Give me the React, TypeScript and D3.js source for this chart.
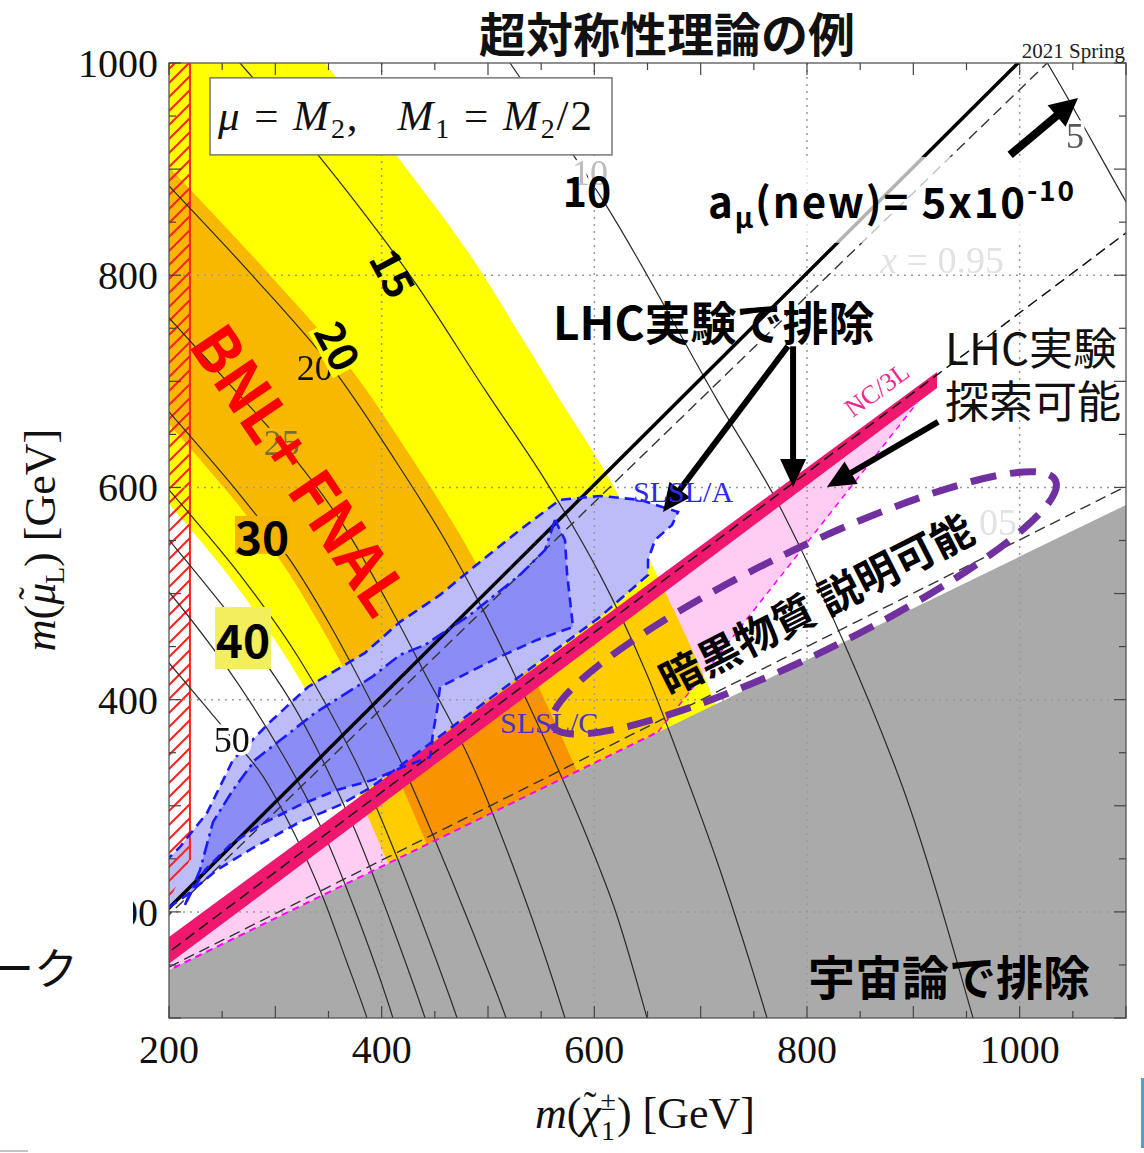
import React from "react";
import * as d3 from "d3";

type Pt = [number, number];

// ---------- axes ----------
const X_DOMAIN: Pt = [200, 1100];
const Y_DOMAIN: Pt = [100, 1000];
const xTickValues = [200, 400, 600, 800, 1000];
const yTickValues = [200, 400, 600, 800, 1000];
const gridX = [400, 600, 800, 1000];
const gridY = [200, 400, 600, 800];

// ---------- contours of Δa_μ (×10^-10) ----------
const contour5: Pt[] = [[1000, 1040], [1026, 1000], [1099, 871], [1140, 800]];
const contour10: Pt[] = [[487, 1050], [520.7, 1000], [612, 864.4], [715.4, 682.5], [777.5, 576], [887.5, 324.3], [956.2, 100], [962, 80]];
const contour15: Pt[] = [[240, 1030], [266.8, 1000], [340.1, 913.4], [400.3, 836.1], [434.2, 789], [497.2, 691.9], [553.6, 607.1], [605.4, 517.6], [647.7, 428], [680.6, 343.2], [718.2, 239.5], [762.4, 100], [768, 80]];
const contour20: Pt[] = [[180, 906], [200, 884.2], [276.2, 802.2], [351.4, 715.5], [412.5, 625.9], [459.6, 550.5], [495.3, 484.6], [527.3, 418.6], [553.6, 362], [586.5, 286.6], [619.5, 201.8], [649.6, 100], [655, 80]];
const contour25: Pt[] = [[180, 782], [200, 759.8], [257.4, 696.6], [306.3, 642], [360.8, 569.4], [414.4, 475.1], [438.9, 428], [483.1, 343.2], [530.1, 225.4], [572.4, 100], [578, 80]];
const contour30: Pt[] = [[180, 694], [200, 671.2], [266.8, 593], [313.8, 531.7], [351.4, 470.4], [384.3, 409.2], [417.3, 343.2], [450.2, 267.8], [483.1, 187.7], [517, 100], [523, 80]];
const contour35: Pt[] = [[180, 621], [200, 597.7], [266.8, 517.6], [323.2, 437.4], [374.9, 343.2], [409.7, 263.1], [440.8, 183], [470.9, 100], [477, 80]];
const contour40: Pt[] = [[180, 574], [200, 550.5], [269.6, 463.8], [313.8, 399.8], [342, 347.9], [374.9, 277.2], [407.8, 192.4], [440.8, 100], [447, 80]];
const contour45: Pt[] = [[180, 525], [200, 501.5], [252.7, 432.7], [307.2, 347.9], [342, 281.9], [374.9, 201.8], [410.6, 100], [416, 80]];
const contour50: Pt[] = [[180, 458], [200, 434.6], [259.2, 364], [287.5, 329.1], [318.5, 272.5], [343.9, 216], [366.5, 154.7], [386.2, 100], [392, 80]];
const contours: Pt[][] = [contour5, contour10, contour15, contour20, contour25, contour30, contour35, contour40, contour45, contour50];

// contour labels (value, position)
const contourLabelText = ["5", "10", "20", "25", "50"];
const contourLabelPos: Pt[] = [[1052, 920], [596, 885], [337, 701], [306, 631], [259, 351]];
const contourLabelColor = ["#555", "#bdbdbd", "#111", "#7d6a3a", "#111"];
const contourLabelBg = ["#ffffff", "#ffffff", "#f9b800", "#f9b800", "#ffffff"];

// ---------- BNL+FNAL bands ----------
const yellowUpper: Pt[] = [[323.2, 1031.2], [346.7, 1000.1], [417.3, 908.7], [483.1, 819.2], [530.1, 743.8], [567.7, 682.5], [614.8, 607.1], [655.2, 525.1], [690, 451.6], [718.2, 385.6], [741.7, 315], [765.2, 230.1], [793.5, 69.9]];
const yellowLower: Pt[] = [[153.9, 639.1], [188.7, 597.7], [255.5, 517.6], [311.9, 437.4], [356.1, 357.3], [396.6, 267.8], [429.5, 187.7], [459.6, 100], [469, 69.9]];
const yellowCorner: Pt[] = [[153.9, 1031.2]];
const orangeUpper: Pt[] = [[153.9, 951.1], [200, 902.1], [293.1, 802.2], [368.3, 715.5], [429.5, 625.9], [476.5, 550.5], [512.2, 484.6], [544.2, 418.6], [570.6, 362], [603.5, 286.6], [636.4, 201.8], [666.5, 100], [675.9, 69.9]];
const orangeLower: Pt[] = [[153.9, 713.6], [200, 659.9], [257.4, 593], [304.4, 531.7], [342, 470.4], [374.9, 409.2], [407.8, 343.2], [440.8, 267.8], [473.7, 187.7], [507.5, 100], [516, 69.9]];

// ---------- other regions ----------
const greyRegion: Pt[] = [[190, 140.4], [1110, 588.4], [1110, 90], [190, 90]];
const pinkRegion: Pt[] = [[195, 147.2], [903.5, 679.7], [659.9, 369.6], [195, 142.9]];
const nc3lBand: Pt[] = [[190, 169], [922.3, 708.9], [922.3, 693.8], [190, 143.5]];
const hatchRegion: Pt[] = [[200, 1000], [219.7, 1000], [219.7, 248.9], [200, 211.3]];
const slslOuter: Pt[] = [[196.2, 247], [210.3, 261.2], [235.7, 293.2], [260.2, 343.2], [295, 379], [330.7, 412], [384.3, 444.1], [417.3, 473.3], [454.9, 498.7], [492.5, 529.8], [530.1, 560], [567.7, 588.3], [605.4, 592], [643, 588.3], [678.7, 576.9], [673.1, 564.7], [657.1, 550.5], [650.5, 531.7], [650.5, 517.6], [605.4, 478], [511.3, 408.2], [417.3, 337.5], [389, 316.8], [360.8, 300.8], [323.2, 284.8], [279, 260.3], [245.1, 239.5], [216.9, 216], [196.2, 201.8]];
const slslInnerTop: Pt[] = [[215, 206.5], [229.2, 239.5], [241.4, 284.8], [260.2, 314.9], [280.9, 343.2], [337.3, 387.5], [390.9, 421.4], [417.3, 442.2], [440.8, 451.6], [483.1, 479.9], [530.1, 517.6], [553.6, 541.1], [563, 569.4]];
const slslInnerBottom: Pt[] = [[563, 569.4], [572.4, 550.5], [574.3, 519.5], [579.9, 468.6], [546.1, 456.3], [508.5, 439.3], [454.9, 412], [452.1, 390.3], [448.3, 368.7], [445.5, 346], [420.1, 336.6], [391.9, 324.4], [358, 314.9], [323.2, 300.8], [285.6, 281.9], [257.4, 263.1], [233.9, 239.5], [219.7, 216], [215, 206.5]];

// ---------- reference lines ----------
const lineX1: Pt[] = [[195, 198.7], [1010, 1011.5]];
const lineX095: Pt[] = [[195, 192.4], [1060, 1033.2]];
const lineX05: Pt[] = [[190, 154.7], [1100, 839.9]];
const lineX005: Pt[] = [[200, 148], [1100, 601]];
const magentaGreyEdge: Pt[] = [[194.4, 142.4], [659.9, 369.6]];
const magentaPinkEdge: Pt[] = [[659.9, 369.6], [903.5, 679.7]];

// ---------- annotations ----------
const legendBox: Pt[] = [[238.6, 986], [616.6, 913.4]];
const amuBox: Pt[] = [[699.4, 911.5], [1056.8, 830.5]];
const amuTextPos: Pt = [706.9, 854];
const arrowAmu: Pt[] = [[991, 913.4], [1054.9, 967.1]];
const arrowLHC1: Pt[] = [[782, 733], [664.6, 576.9]];
const arrowLHC2: Pt[] = [[786.9, 733], [786.9, 600.5]];
const arrowLHC3: Pt[] = [[923.3, 661.8], [818.8, 600.5]];
const lhcExcludedPos: Pt = [561.1, 739.1];
const lhcReachPos1: Pt = [929.8, 715.5];
const lhcReachPos2: Pt = [929.8, 665.5];
const cosmoPos: Pt = [801, 121.7];
const dmEllipseCenter: Pt = [797.2, 491.2];
const dmTextPos: Pt = [807.6, 492.1];
const bold10Pos: Pt = [593.1, 864.4];
const bold15Pos: Pt = [412.5, 803.1];
const bold20Pos: Pt = [360.8, 734.3];
const bold30Pos: Pt = [287.5, 555.3];
const bold40Pos: Pt = [269.6, 458.2];
const bnlPos: Pt = [326, 618.4];
const slslAPos: Pt = [636.4, 586.4];
const slslCPos: Pt = [511.3, 368.6];
const nc3lPos: Pt = [865.9, 692];
const x095Pos: Pt = [927, 802.2];
const x005Pos: Pt = [997.5, 555.3];

export default function App() {
  const x = d3.scaleLinear().domain(X_DOMAIN).range([169, 1126]);
  const y = d3.scaleLinear().domain(Y_DOMAIN).range([1018, 63]);
  const smooth = d3.line<Pt>().x((d) => x(d[0])).y((d) => y(d[1])).curve(d3.curveCatmullRom.alpha(0.5));
  const straight = d3.line<Pt>().x((d) => x(d[0])).y((d) => y(d[1]));
  const poly = (pts: Pt[]) => straight(pts) + "Z";
  const bandPath = (upper: Pt[], lower: Pt[], corners: Pt[] = []) => {
    const a = smooth(upper) as string;
    const b = (smooth([...lower].reverse()) as string).replace(/^M/, "L");
    const c = corners.map((p) => `L${x(p[0])},${y(p[1])}`).join("");
    return a + b + c + "Z";
  };
  const arrow = (seg: Pt[], w: number, hl: number, hw: number) => {
    const x1 = x(seg[0][0]), y1 = y(seg[0][1]), x2 = x(seg[1][0]), y2 = y(seg[1][1]);
    const dx = x2 - x1, dy = y2 - y1, L = Math.hypot(dx, dy);
    const ux = dx / L, uy = dy / L, px = -uy, py = ux;
    const bx = x2 - ux * hl, by = y2 - uy * hl;
    return (
      <g>
        <line x1={x1} y1={y1} x2={bx + ux * 2} y2={by + uy * 2} stroke="#000" strokeWidth={w} />
        <path d={`M${x2},${y2}L${bx + (px * hw) / 2},${by + (py * hw) / 2}L${bx - (px * hw) / 2},${by - (py * hw) / 2}Z`} fill="#000" />
      </g>
    );
  };
  const X0 = x(X_DOMAIN[0]), X1 = x(X_DOMAIN[1]), Y0 = y(Y_DOMAIN[1]), Y1 = y(Y_DOMAIN[0]);
  const serif = "'Liberation Serif', 'Times New Roman', serif";
  const cjk = "'Noto Sans CJK JP', 'Noto Sans', sans-serif";
  const minorX = d3.range(200, 1101, 50);
  const minorY = d3.range(100, 1001, 50);
  const rx = x(dmEllipseCenter[0] + 263) - x(dmEllipseCenter[0]);
  const ry = y(0) - y(49);

  return (
    <svg width={1144} height={1153} style={{ position: "absolute", left: 0, top: 0, background: "#fff" }}>
      <defs>
        <clipPath id="plotClip">
          <rect x={X0} y={Y0} width={X1 - X0} height={Y1 - Y0} />
        </clipPath>
        <pattern id="hatch" patternUnits="userSpaceOnUse" width={14} height={14}>
          <path d="M-2,2 l4,-4 M0,14 l14,-14 M12,16 l4,-4" stroke="#ff2020" strokeWidth={2} />
        </pattern>
      </defs>

      <g clipPath="url(#plotClip)">
        <rect x={X0} y={Y0} width={X1 - X0} height={Y1 - Y0} fill="#fff" />
        <path d={poly(pinkRegion)} fill="#ffccf4" />
        <path d={bandPath(yellowUpper, yellowLower, yellowCorner)} fill="#ffff00" style={{ mixBlendMode: "multiply" }} />
        <path d={bandPath(orangeUpper, orangeLower)} fill="#f9b800" style={{ mixBlendMode: "multiply" }} />
        <path d={poly(slslOuter)} fill="#bcbcf8" />
        <path d={poly([...slslInnerTop, ...slslInnerBottom])} fill="#8c8cf6" />
        <path d={poly(greyRegion)} fill="#aaaaaa" />
        <path d={poly(hatchRegion)} fill="url(#hatch)" />
        <line x1={x(219.7)} x2={x(219.7)} y1={y(1000)} y2={y(248.9)} stroke="#ff2020" strokeWidth={2} />

        {gridX.map((v) => (
          <line key={"gx" + v} x1={x(v)} x2={x(v)} y1={Y0} y2={Y1} stroke="#9a9a9a" strokeWidth={1.5} strokeDasharray="2,5" />
        ))}
        {gridY.map((v) => (
          <line key={"gy" + v} x1={X0} x2={X1} y1={y(v)} y2={y(v)} stroke="#9a9a9a" strokeWidth={1.5} strokeDasharray="2,5" />
        ))}

        {contours.map((c, i) => (
          <path key={"c" + i} d={smooth(c) as string} fill="none" stroke="#2a2a2a" strokeWidth={1.2} />
        ))}

        <path d={straight(lineX005) as string} stroke="#333" strokeWidth={1.4} strokeDasharray="11,6" fill="none" />
        <path d={straight(lineX095) as string} stroke="#333" strokeWidth={1.4} strokeDasharray="11,6" fill="none" />
        <path d={straight(lineX1) as string} stroke="#000" strokeWidth={3.5} fill="none" />

        <path d={poly(nc3lBand)} fill="#f0176f" />
        <path d={straight(lineX05) as string} stroke="#111" strokeWidth={1.5} strokeDasharray="11,6" fill="none" />
        <path d={straight(magentaGreyEdge) as string} stroke="#ff00ff" strokeWidth={2} strokeDasharray="7,5" fill="none" />
        <path d={straight(magentaPinkEdge) as string} stroke="#ff00ff" strokeWidth={1.5} strokeDasharray="6,5" fill="none" />

        <path d={poly(slslOuter)} fill="none" stroke="#1a1aff" strokeWidth={2.6} strokeDasharray="10,6" />
        <path d={straight(slslInnerTop) as string} fill="none" stroke="#1a1aff" strokeWidth={2.6} strokeDasharray="14,5,3,5" />
        <path d={straight(slslInnerBottom) as string} fill="none" stroke="#1a1aff" strokeWidth={2.6} strokeDasharray="10,6" />

        <rect x={x(amuBox[0][0])} y={y(amuBox[0][1])} width={x(amuBox[1][0]) - x(amuBox[0][0])} height={y(amuBox[1][1]) - y(amuBox[0][1])} fill="#fff" opacity={0.7} />

        {contourLabelText.map((t, i) => (
          <text key={"cl" + i} x={x(contourLabelPos[i][0])} y={y(contourLabelPos[i][1])} fontFamily={serif} fontSize={36} textAnchor="middle" fill={contourLabelColor[i]} stroke={contourLabelBg[i]} strokeWidth={7} paintOrder="stroke">
            {t}
          </text>
        ))}
        <text x={x(x095Pos[0])} y={y(x095Pos[1])} fontFamily={serif} fontSize={38} textAnchor="middle" fill="#e2e2e2">
          <tspan fontStyle="italic">x</tspan> = 0.95
        </text>
        <text x={x(x005Pos[0])} y={y(x005Pos[1])} fontFamily={serif} fontSize={38} textAnchor="end" fill="#e2e2e2">05</text>
      </g>

      {/* frame and ticks */}
      <rect x={X0} y={Y0} width={X1 - X0} height={Y1 - Y0} fill="none" stroke="#555" strokeWidth={1.3} />
      {minorX.map((v) => {
        const L = v % 100 === 0 ? 12 : 7;
        return (
          <g key={"tx" + v}>
            <line x1={x(v)} x2={x(v)} y1={Y1} y2={Y1 - L} stroke="#444" strokeWidth={1.2} />
            <line x1={x(v)} x2={x(v)} y1={Y0} y2={Y0 + L} stroke="#444" strokeWidth={1.2} />
          </g>
        );
      })}
      {minorY.map((v) => {
        const L = v % 100 === 0 ? 12 : 7;
        return (
          <g key={"ty" + v}>
            <line x1={X0} x2={X0 + L} y1={y(v)} y2={y(v)} stroke="#444" strokeWidth={1.2} />
            <line x1={X1} x2={X1 - L} y1={y(v)} y2={y(v)} stroke="#444" strokeWidth={1.2} />
          </g>
        );
      })}
      {xTickValues.map((v) => (
        <text key={"xl" + v} x={x(v)} y={1063} fontFamily={serif} fontSize={40} textAnchor="middle" fill="#111">{v}</text>
      ))}
      {yTickValues.map((v) => (
        <text key={"yl" + v} x={158} y={y(v) + 14} fontFamily={serif} fontSize={40} textAnchor="end" fill="#111">{v}</text>
      ))}
      <rect x={0} y={886} width={133} height={52} fill="#fff" />
      <text x={78} y={985} fontFamily={cjk} fontSize={44} textAnchor="end" fill="#111">ーク</text>

      {/* axis titles */}
      <text x={645} y={1128} fontFamily={serif} fontSize={44} textAnchor="middle" fill="#111" style={{ whiteSpace: "pre" }}>
        <tspan fontStyle="italic">m</tspan>
        <tspan>(</tspan>
        <tspan fontStyle="italic">χ</tspan>
        <tspan dx={-17} dy={-10} fontSize={38}>˜</tspan>
        <tspan dx={4} dy={-8} fontSize={28}>±</tspan>
        <tspan dx={-15} dy={30} fontSize={28}>1</tspan>
        <tspan dx={2} dy={-12}>) [GeV]</tspan>
      </text>
      <text transform="translate(55,540) rotate(-90)" fontFamily={serif} fontSize={44} textAnchor="middle" fill="#111" style={{ whiteSpace: "pre" }}>
        <tspan fontStyle="italic">m</tspan>
        <tspan>(</tspan>
        <tspan fontStyle="italic">μ</tspan>
        <tspan dx={-17} dy={-10} fontSize={38}>˜</tspan>
        <tspan dx={3} dy={19} fontSize={28}>L</tspan>
        <tspan dy={-9}>) [GeV]</tspan>
      </text>

      {/* title */}
      <text x={667} y={52} fontFamily={cjk} fontSize={47} fontWeight={700} textAnchor="middle" fill="#111">超対称性理論の例</text>
      <text x={1125} y={58} fontFamily={serif} fontSize={21} textAnchor="end" fill="#222">2021 Spring</text>

      {/* legend box */}
      <rect x={x(legendBox[0][0])} y={y(legendBox[0][1])} width={x(legendBox[1][0]) - x(legendBox[0][0])} height={y(legendBox[1][1]) - y(legendBox[0][1])} fill="#fff" stroke="#777" strokeWidth={1.5} />
      <text x={218} y={130} fontFamily={serif} fontSize={43} fill="#111" textLength={374} lengthAdjust="spacing" style={{ whiteSpace: "pre" }}>
        <tspan fontStyle="italic">μ</tspan> = <tspan fontStyle="italic">M</tspan>
        <tspan fontSize={28} dy={8}>2</tspan>
        <tspan dy={-8}>,   </tspan>
        <tspan fontStyle="italic">M</tspan>
        <tspan fontSize={28} dy={8}>1</tspan>
        <tspan dy={-8}> = </tspan>
        <tspan fontStyle="italic">M</tspan>
        <tspan fontSize={28} dy={8}>2</tspan>
        <tspan dy={-8}>/2</tspan>
      </text>

      {/* bold contour annotations */}
      <text x={x(bold10Pos[0])} y={y(bold10Pos[1])} fontFamily={cjk} fontSize={41} fontWeight={700} textAnchor="middle" fill="#000">10</text>
      <text transform={`translate(${x(bold15Pos[0])},${y(bold15Pos[1])}) rotate(62)`} fontFamily={cjk} fontSize={41} fontWeight={700} textAnchor="middle" dominantBaseline="central" fill="#000">15</text>
      <g transform={`translate(${x(bold20Pos[0])},${y(bold20Pos[1])}) rotate(62)`}>
        <rect x={-26} y={-22} width={52} height={44} fill="#ffff00" />
        <text fontFamily={cjk} fontSize={41} fontWeight={700} textAnchor="middle" dominantBaseline="central" fill="#000">20</text>
      </g>
      <rect x={x(bold30Pos[0]) - 27} y={y(bold30Pos[1]) - 19} width={54} height={38} fill="#f5b400" />
      <text x={x(bold30Pos[0])} y={y(bold30Pos[1])} fontFamily={cjk} fontSize={46} fontWeight={700} textAnchor="middle" dominantBaseline="central" fill="#000">30</text>
      <rect x={x(bold40Pos[0]) - 28} y={y(bold40Pos[1]) - 31} width={56} height={62} fill="#f1ef5c" />
      <text x={x(bold40Pos[0])} y={y(bold40Pos[1])} fontFamily={cjk} fontSize={46} fontWeight={700} textAnchor="middle" dominantBaseline="central" fill="#000">40</text>
      <text transform={`translate(${x(bnlPos[0])},${y(bnlPos[1])}) rotate(56)`} fontFamily={cjk} fontSize={62} fontWeight={700} textAnchor="middle" dominantBaseline="central" fill="#ff0000">BNL+ FNAL</text>

      {/* a_mu text and arrows */}
      <text x={x(amuTextPos[0])} y={y(amuTextPos[1])} fontFamily={cjk} fontSize={42} fontWeight={700} fill="#000" textLength={366} lengthAdjust="spacing">
        a<tspan fontSize={28} dy={10}>μ</tspan>
        <tspan dy={-10}>(new)= 5x10</tspan>
        <tspan fontSize={28} dy={-17}>-10</tspan>
      </text>
      {arrow(arrowAmu, 8, 28, 28)}
      <text x={x(lhcExcludedPos[0])} y={y(lhcExcludedPos[1])} fontFamily={cjk} fontSize={46} fontWeight={700} fill="#000">LHC実験で排除</text>
      {arrow(arrowLHC1, 6, 28, 26)}
      {arrow(arrowLHC2, 6, 28, 26)}
      <text x={x(lhcReachPos1[0])} y={y(lhcReachPos1[1])} fontFamily={cjk} fontSize={44} fill="#111">LHC実験</text>
      <text x={x(lhcReachPos2[0])} y={y(lhcReachPos2[1])} fontFamily={cjk} fontSize={44} fill="#111">探索可能</text>
      {arrow(arrowLHC3, 6, 28, 26)}

      {/* region labels */}
      <text x={x(slslAPos[0])} y={y(slslAPos[1])} fontFamily={serif} fontSize={30} fill="#2a2ae6">SLSL/A</text>
      <text x={x(slslCPos[0])} y={y(slslCPos[1])} fontFamily={serif} fontSize={30} fill="#4b32c8">SLSL/C</text>
      <text transform={`translate(${x(nc3lPos[0])},${y(nc3lPos[1])}) rotate(-36)`} fontFamily={serif} fontSize={26} textAnchor="middle" dominantBaseline="central" fill="#f0288c">NC/3L</text>

      {/* dark matter ellipse */}
      <ellipse cx={x(dmEllipseCenter[0])} cy={y(dmEllipseCenter[1])} rx={rx} ry={ry} transform={`rotate(-26 ${x(dmEllipseCenter[0])} ${y(dmEllipseCenter[1])})`} fill="none" stroke="#7030a0" strokeWidth={7} strokeDasharray="26,14" />
      <text transform={`translate(${x(dmTextPos[0])},${y(dmTextPos[1])}) rotate(-27)`} fontFamily={cjk} fontSize={42} fontWeight={700} textAnchor="middle" dominantBaseline="central" fill="#000" style={{ whiteSpace: "pre" }}>暗黒物質 説明可能</text>

      <text x={x(cosmoPos[0])} y={y(cosmoPos[1])} fontFamily={cjk} fontSize={47} fontWeight={700} fill="#000">宇宙論で排除</text>

      <rect x={1141} y={1078} width={3} height={70} fill="#5b9bd5" />
      <line x1={0} x2={28} y1={1151} y2={1151} stroke="#888" strokeWidth={1} />
    </svg>
  );
}
